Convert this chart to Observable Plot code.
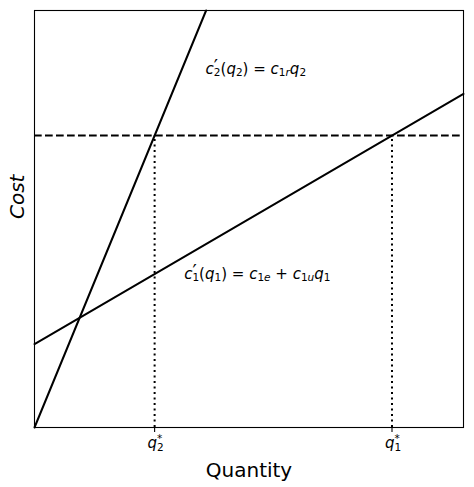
<!DOCTYPE html>
<html>
<head>
<meta charset="utf-8">
<script src="https://cdn.jsdelivr.net/npm/d3@7"></script>
<script src="https://cdn.jsdelivr.net/npm/@observablehq/plot@0.6"></script>
<style>
  html, body { margin: 0; padding: 0; background: #fff; }
  #chart { width: 474px; height: 487px; }
</style>
</head>
<body>
<div id="chart"></div>
<script>
// ---- data ----
const qRange = [0, 10];
const costRange = [0, 10];
// steep marginal cost c2'(q2) = c1r * q2
const c1r = 2.5;
const steepX = [0, 4];
// shallow marginal cost c1'(q1) = c1e + c1u * q1
const c1e = 2;
const c1u = 0.6;
const shallowX = [0, 10];
// equilibrium cost level
const costLevel = 7;
const tickValues = [2.8, 8.3333];
const tickLabels = [["q", "2", "*"], ["q", "1", "*"]];
const annotX = [4, 3.5];
const annotY = [8.47, 3.55];
const annotParts = [
  [["c","i",0],["2","n","sub"],["′","n","prime",1],["(","n",0],["q","i",0],["2","n","sub"],[")","n",0],[" = ","n",0],["c","i",0],["1","n","sub"],["r","i","sub"],["q","i",0],["2","n","sub"]],
  [["c","i",0],["1","n","sub"],["′","n","prime",1],["(","n",0],["q","i",0],["1","n","sub"],[")","n",0],[" = ","n",0],["c","i",0],["1","n","sub"],["e","i","sub"],[" + ","n",0],["c","i",0],["1","n","sub"],["u","i","sub"],["q","i",0],["1","n","sub"]]
];

const steep = steepX.map(x => ({x, y: c1r * x}));
const shallow = shallowX.map(x => ({x, y: c1e + c1u * x}));

const FONT = "DejaVu Sans";
const SHIFT = {0: 0, sub: 2.5, sup: -6.5, prime: -0.5};
const SIZE = {0: 1, sub: 0.7, sup: 0.7, prime: 1.25};

const ctx = document.createElement("canvas").getContext("2d");
function measure(txt, fs, italic) {
  ctx.font = `${italic ? "italic " : ""}${fs}px "${FONT}"`;
  return ctx.measureText(txt).width;
}

function richText(g, x, y, parts, anchor, base) {
  const t = g.append("text")
    .attr("x", x).attr("y", y)
    .attr("text-anchor", anchor)
    .attr("font-family", FONT)
    .attr("fill", "black");
  let cur = 0, lastW = 0, carry = 0;
  for (const p of parts) {
    const [txt, style, sh, stacked] = p;
    const off = SHIFT[sh] * (base / 15);
    const fs = base * SIZE[sh];
    const w = measure(txt, fs, style === "i");
    const span = t.append("tspan")
      .attr("font-size", fs)
      .attr("font-style", style === "i" ? "italic" : "normal")
      .attr("dy", off - cur)
      .style("white-space", "pre")
      .text(txt);
    if (stacked) {
      span.attr("dx", -lastW);
      carry = Math.max(0, lastW - w);
    } else {
      if (carry) span.attr("dx", carry);
      carry = 0;
    }
    lastW = w;
    cur = off;
  }
  return t;
}

const annotMark = (index, scales) => {
  const g = d3.create("svg:g");
  annotParts.forEach((parts, i) => {
    richText(g, scales.x(annotX[i]), scales.y(annotY[i]), parts, "start", 15);
  });
  return g.node();
};

const tickLabelMark = (index, scales, values, dims) => {
  const g = d3.create("svg:g");
  const yb = dims.height - dims.marginBottom + 21;
  tickValues.forEach((v, i) => {
    const [q, sub, sup] = tickLabels[i];
    richText(g, scales.x(v) + 1.5, yb,
      [[q, "i", 0], [sub, "n", "sub"], [sup, "n", "sup", 1]], "middle", 15);
  });
  return g.node();
};

const plot = Plot.plot({
  width: 474,
  height: 487,
  marginLeft: 34,
  marginRight: 11,
  marginTop: 10,
  marginBottom: 60,
  style: {fontFamily: FONT, background: "white", overflow: "visible"},
  x: {domain: qRange, axis: null},
  y: {domain: costRange, axis: null},
  marks: [
    Plot.ruleY([costLevel], {stroke: "black", strokeWidth: 2, strokeDasharray: "7.7,3.3"}),
    Plot.ruleX(tickValues, {y1: 0, y2: costLevel, stroke: "black", strokeWidth: 2, strokeDasharray: "2.1,3.4"}),
    Plot.line(steep, {x: "x", y: "y", stroke: "black", strokeWidth: 2}),
    Plot.line(shallow, {x: "x", y: "y", stroke: "black", strokeWidth: 2}),
    Plot.axisX(tickValues, {tickSize: 5, tickFormat: () => "", label: null, stroke: "black", strokeWidth: 1.1}),
    Plot.frame({stroke: "black", strokeWidth: 1.1}),
    annotMark,
    tickLabelMark,
    Plot.text(["Quantity"], {frameAnchor: "bottom", dy: 49, fontSize: 20, fill: "black", fontFamily: FONT}),
    Plot.text(["Cost"], {frameAnchor: "left", dx: -17, rotate: -90, fontSize: 20, fontStyle: "italic", fill: "black", fontFamily: FONT})
  ]
});
document.getElementById("chart").appendChild(plot);
</script>
</body>
</html>
